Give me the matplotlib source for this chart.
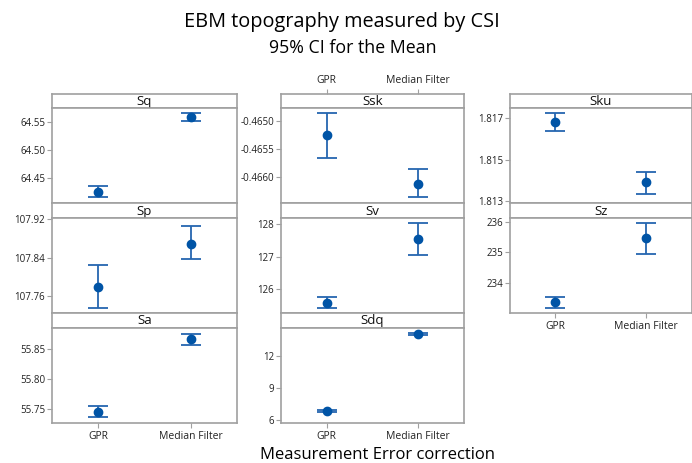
import matplotlib
matplotlib.use("Agg")
import matplotlib.pyplot as plt
from matplotlib.ticker import FormatStrFormatter

plt.rcParams['font.family'] = ['Open Sans', 'DejaVu Sans']

W, H = 692, 463
groups = ["GPR", "Median Filter"]

# mean, lower, upper per variable (GPR, Median Filter)
sq_mean = [64.426, 64.560]
sq_low = [64.416, 64.553]
sq_up = [64.437, 64.567]

sp_mean = [107.778, 107.869]
sp_low = [107.7356, 107.8365]
sp_up = [107.8246, 107.906]

sa_mean = [55.7455, 55.8667]
sa_low = [55.737, 55.858]
sa_up = [55.7555, 55.876]

ssk_mean = [-0.465258, -0.466131]
ssk_low = [-0.465671, -0.46636]
ssk_up = [-0.464859, -0.465871]

sv_mean = [125.588, 127.545]
sv_low = [125.43, 127.07]
sv_up = [125.75, 128.03]

sdq_mean = [6.85, 14.12]
sdq_low = [6.76, 14.03]
sdq_up = [6.94, 14.21]

sku_mean = [1.81681, 1.81391]
sku_low = [1.81638, 1.81334]
sku_up = [1.81726, 1.81439]

sz_mean = [233.357, 235.45]
sz_low = [233.18, 234.95]
sz_up = [233.52, 235.95]

panels = [
    # name, mean, low, up, ticks, fmt, ylim, col, row
    ("Sq", sq_mean, sq_low, sq_up, [64.45, 64.50, 64.55], "%.2f", (64.406, 64.5755), 0, 0),
    ("Sp", sp_mean, sp_low, sp_up, [107.76, 107.84, 107.92], "%.2f", (107.7246, 107.923), 0, 1),
    ("Sa", sa_mean, sa_low, sa_up, [55.75, 55.80, 55.85], "%.2f", (55.7267, 55.8867), 0, 2),
    ("Ssk", ssk_mean, ssk_low, ssk_up, [-0.4660, -0.4655, -0.4650], "%.4f", (-0.466472, -0.464776), 1, 0),
    ("Sv", sv_mean, sv_low, sv_up, [126, 127, 128], "%d", (125.271, 128.194), 1, 1),
    ("Sdq", sdq_mean, sdq_low, sdq_up, [6, 9, 12], "%d", (5.72, 14.72), 1, 2),
    ("Sku", sku_mean, sku_low, sku_up, [1.813, 1.815, 1.817], "%.3f", (1.81289, 1.8175), 2, 0),
    ("Sz", sz_mean, sz_low, sz_up, [234, 235, 236], "%d", (233.006, 236.12), 2, 1),
]

col_x = [(52, 237), (281, 464), (510, 691.5)]
rows_y = [(94, 108, 203), (203, 218, 313), (313, 327.5, 423)]

gray = "#a0a0a0"
mcol = "#0054A6"
lcol = "#2566b0"

fig = plt.figure(figsize=(W / 100, H / 100), dpi=100)


def frac(x0, y0, x1, y1):
    return [x0 / W, 1 - y1 / H, (x1 - x0) / W, (y1 - y0) / H]


for name, mean, low, up, ticks, fmt, ylim, c, r in panels:
    x0, x1 = col_x[c]
    s0, s1, b = rows_y[r]
    # strip
    sax = fig.add_axes(frac(x0, s0, x1, s1))
    sax.set_xticks([])
    sax.set_yticks([])
    for sp in sax.spines.values():
        sp.set_color(gray)
        sp.set_linewidth(1.2)
    sax.text(0.5, 0.45, name, ha="center", va="center", fontsize=9.5, color="#111111",
             transform=sax.transAxes)
    # panel
    ax = fig.add_axes(frac(x0, s1, x1, b))
    xs = list(range(len(groups)))
    yerr = [[m - l for m, l in zip(mean, low)], [u - m for m, u in zip(mean, up)]]
    ax.errorbar(xs, mean, yerr=yerr, fmt="o", color=mcol, ecolor=lcol,
                elinewidth=1.3, capsize=7, capthick=1.3, markersize=6, zorder=3)
    ax.set_xlim(-0.5, 1.5)
    ax.set_ylim(*ylim)
    ax.set_yticks(ticks)
    ax.yaxis.set_major_formatter(FormatStrFormatter(fmt))
    for sp in ax.spines.values():
        sp.set_color(gray)
        sp.set_linewidth(1.2)
    ax.tick_params(axis="y", length=3.5, color=gray, labelsize=7, labelcolor="#222222", pad=1.5)
    ax.set_xticks(xs)
    last_row = (c in (0, 1) and r == 2) or (c == 2 and r == 1)
    if last_row:
        ax.set_xticklabels(groups)
        ax.tick_params(axis="x", length=3.5, color=gray, labelsize=7.5, labelcolor="#222222", pad=2)
    elif c == 1 and r == 0:
        ax.set_xticks([])
        sax.set_xlim(-0.5, 1.5)
        sax.set_xticks(xs)
        sax.set_xticklabels(groups)
        sax.xaxis.tick_top()
        sax.tick_params(axis="x", length=3.5, color=gray, labelsize=7.5, labelcolor="#222222", pad=2)
    else:
        ax.set_xticks([])

fig.text(342 / W, 1 - 22 / H, "EBM topography measured by CSI", ha="center", va="center",
         fontsize=14.3, color="#000000", fontweight="medium")
fig.text(353 / W, 1 - 48 / H, "95% CI for the Mean", ha="center", va="center",
         fontsize=12.8, color="#000000")
fig.text(377 / W, 1 - 455 / H, "Measurement Error correction", ha="center", va="center",
         fontsize=12, color="#000000")

fig.savefig("out.png", dpi=100)
